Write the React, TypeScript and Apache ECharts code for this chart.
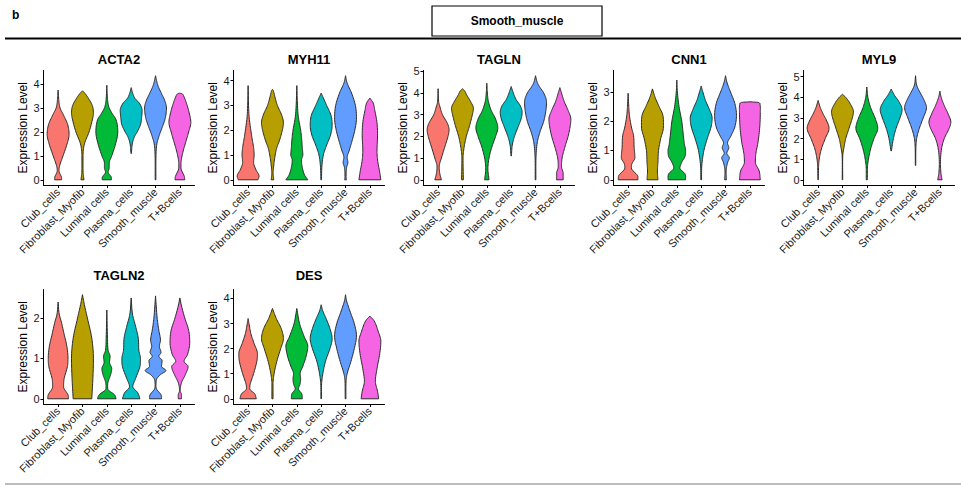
import React, { useEffect, useRef } from "react";
import * as echarts from "echarts";

// ---------- data ----------
const CELL_TYPES = ["Club_cells", "Fibroblast_Myofib", "Luminal cells", "Plasma_cells", "Smooth_muscle", "T+Bcells"];
const COLORS = ["#F8766D", "#B79F00", "#00BA38", "#00BFC4", "#619CFF", "#F564E3"];
const GENES = ["ACTA2", "MYH11", "TAGLN", "CNN1", "MYL9", "TAGLN2", "DES"];
const PANEL_TITLE = "Smooth_muscle";
const FIG_LABEL = "b";
const Y_NAME = "Expression Level";

// violin profiles: [expression level, relative half-width (1 = widest)]
const ACTA2 = [
  [[0, 0.32], [0.12, 0.3], [0.38, 0.08], [0.6, 0.15], [1.0, 0.45], [1.5, 0.82], [1.9, 1.0], [2.3, 0.88], [2.7, 0.5], [3.0, 0.18], [3.3, 0.07], [3.75, 0]],
  [[0, 0.14], [0.3, 0.06], [1.0, 0.05], [1.5, 0.18], [2.0, 0.6], [2.5, 0.9], [2.8, 1.0], [3.1, 0.9], [3.4, 0.55], [3.6, 0.25], [3.72, 0]],
  [[0, 0.42], [0.12, 0.4], [0.32, 0.12], [0.5, 0.22], [0.7, 0.22], [1.0, 0.45], [1.5, 0.8], [2.0, 1.0], [2.5, 0.85], [2.8, 0.45], [3.05, 0.18], [3.4, 0.06], [3.95, 0]],
  [[1.1, 0.02], [1.5, 0.1], [1.8, 0.3], [2.0, 0.55], [2.3, 0.85], [2.6, 0.95], [2.9, 1.0], [3.2, 0.75], [3.4, 0.35], [3.6, 0.15], [3.85, 0]],
  [[0, 0.03], [1.0, 0.04], [1.5, 0.12], [1.8, 0.3], [2.0, 0.45], [2.3, 0.7], [2.6, 0.9], [3.0, 1.0], [3.3, 0.85], [3.6, 0.55], [3.9, 0.25], [4.1, 0.12], [4.35, 0]],
  [[0, 0.45], [0.15, 0.4], [0.5, 0.1], [0.8, 0.12], [1.2, 0.3], [1.6, 0.55], [2.0, 0.8], [2.4, 1.0], [2.8, 0.85], [3.2, 0.6], [3.5, 0.35], [3.6, 0.2], [3.62, 0]],
];
const MYH11 = [
  [[0, 0.9], [0.15, 1.0], [0.4, 0.72], [0.7, 0.5], [1.0, 0.55], [1.3, 0.5], [1.7, 0.35], [2.0, 0.25], [2.5, 0.1], [3.0, 0.04], [3.8, 0]],
  [[0, 0.12], [0.25, 0.06], [0.6, 0.12], [1.0, 0.25], [1.3, 0.4], [1.6, 0.65], [2.0, 0.9], [2.3, 1.0], [2.6, 0.85], [3.0, 0.45], [3.3, 0.25], [3.6, 0.08], [3.65, 0]],
  [[0, 1.0], [0.2, 0.7], [0.5, 0.5], [0.8, 0.42], [1.0, 0.55], [1.3, 0.5], [1.6, 0.45], [2.0, 0.35], [2.5, 0.15], [3.0, 0.06], [3.8, 0]],
  [[0, 0.03], [0.5, 0.06], [1.0, 0.2], [1.4, 0.5], [1.8, 0.85], [2.2, 1.0], [2.6, 0.9], [3.0, 0.5], [3.3, 0.2], [3.5, 0]],
  [[0, 0.08], [0.15, 0.05], [0.5, 0.1], [0.7, 0.22], [0.9, 0.15], [1.2, 0.35], [1.5, 0.55], [2.0, 0.85], [2.5, 1.0], [3.0, 0.9], [3.5, 0.55], [3.9, 0.15], [4.2, 0]],
  [[0, 1.0], [0.3, 0.9], [0.8, 0.7], [1.2, 0.65], [1.8, 0.7], [2.3, 0.65], [2.8, 0.45], [3.1, 0.3], [3.3, 0]],
];
const TAGLN = [
  [[0, 0.3], [0.3, 0.15], [0.6, 0.1], [1.0, 0.3], [1.5, 0.6], [2.0, 0.9], [2.3, 1.0], [2.6, 0.85], [3.0, 0.4], [3.4, 0.15], [3.6, 0.05], [4.2, 0]],
  [[0, 0.08], [1.0, 0.05], [1.5, 0.15], [2.0, 0.35], [2.5, 0.65], [3.0, 0.9], [3.3, 1.0], [3.6, 0.75], [3.9, 0.4], [4.1, 0.2], [4.2, 0]],
  [[0, 0.2], [0.5, 0.1], [1.0, 0.2], [1.5, 0.45], [2.0, 0.8], [2.4, 1.0], [2.8, 0.8], [3.2, 0.4], [3.6, 0.15], [4.0, 0.05], [4.45, 0]],
  [[1.1, 0.02], [1.6, 0.1], [2.0, 0.3], [2.4, 0.6], [2.8, 0.9], [3.1, 1.0], [3.4, 0.85], [3.7, 0.45], [4.0, 0.2], [4.3, 0]],
  [[0, 0.03], [1.0, 0.04], [1.7, 0.15], [2.2, 0.4], [2.7, 0.75], [3.2, 0.95], [3.6, 1.0], [4.0, 0.75], [4.3, 0.35], [4.5, 0.15], [4.8, 0]],
  [[0, 0.3], [0.3, 0.3], [0.6, 0.15], [1.0, 0.2], [1.5, 0.45], [2.0, 0.75], [2.5, 0.95], [2.8, 1.0], [3.2, 0.75], [3.6, 0.4], [4.0, 0.15], [4.25, 0]],
];
const CNN1 = [
  [[0, 0.9], [0.15, 0.85], [0.4, 0.3], [0.55, 0.35], [0.75, 0.62], [0.9, 0.6], [1.1, 0.55], [1.5, 0.5], [1.8, 0.3], [2.2, 0.12], [2.5, 0.06], [2.95, 0]],
  [[0, 0.5], [0.3, 0.45], [0.6, 0.5], [1.0, 0.55], [1.4, 0.75], [1.8, 1.0], [2.2, 0.95], [2.5, 0.6], [2.8, 0.25], [3.1, 0]],
  [[0, 0.8], [0.2, 0.75], [0.4, 0.28], [0.6, 0.45], [0.8, 0.75], [1.0, 0.8], [1.2, 0.7], [1.5, 0.6], [2.0, 0.45], [2.5, 0.2], [3.0, 0.05], [3.4, 0]],
  [[0, 0.03], [0.5, 0.06], [1.0, 0.25], [1.4, 0.55], [1.8, 0.9], [2.1, 1.0], [2.4, 0.75], [2.7, 0.4], [3.0, 0.15], [3.2, 0]],
  [[0, 0.08], [0.3, 0.05], [0.6, 0.2], [0.75, 0.35], [0.9, 0.12], [1.1, 0.3], [1.25, 0.18], [1.5, 0.5], [1.8, 0.85], [2.2, 1.0], [2.6, 0.85], [3.0, 0.45], [3.3, 0.15], [3.55, 0]],
  [[0, 0.95], [0.3, 0.85], [0.6, 0.5], [0.9, 0.55], [1.3, 0.75], [1.8, 0.9], [2.3, 0.95], [2.55, 0.93], [2.64, 0.75], [2.66, 0]],
];
const MYL9 = [
  [[0, 0.02], [0.6, 0.04], [1.0, 0.1], [1.5, 0.3], [2.0, 0.65], [2.5, 1.0], [2.9, 0.75], [3.2, 0.45], [3.5, 0.2], [3.85, 0]],
  [[0, 0.02], [1.2, 0.03], [1.6, 0.15], [2.0, 0.3], [2.5, 0.6], [3.0, 0.9], [3.3, 1.0], [3.7, 0.7], [4.0, 0.3], [4.15, 0]],
  [[0, 0.05], [0.5, 0.05], [1.0, 0.15], [1.5, 0.35], [2.0, 0.65], [2.5, 1.0], [3.0, 0.75], [3.5, 0.35], [4.0, 0.1], [4.5, 0]],
  [[1.4, 0.02], [2.0, 0.2], [2.5, 0.45], [3.0, 0.8], [3.4, 1.0], [3.8, 0.7], [4.1, 0.3], [4.4, 0]],
  [[0.7, 0.02], [1.5, 0.03], [2.0, 0.1], [2.5, 0.35], [3.0, 0.7], [3.5, 1.0], [3.9, 0.75], [4.3, 0.35], [4.6, 0.1], [5.05, 0]],
  [[0, 0.2], [0.3, 0.1], [0.8, 0.05], [1.5, 0.15], [2.0, 0.4], [2.5, 0.85], [2.8, 1.0], [3.2, 0.75], [3.6, 0.4], [4.0, 0.12], [4.3, 0]],
];
const TAGLN2 = [
  [[0, 0.95], [0.1, 0.9], [0.3, 0.5], [0.5, 0.55], [0.8, 0.85], [1.0, 0.9], [1.3, 0.8], [1.6, 0.55], [1.9, 0.3], [2.1, 0.1], [2.4, 0]],
  [[0, 0.85], [0.5, 0.95], [1.0, 1.0], [1.5, 0.85], [2.0, 0.45], [2.3, 0.2], [2.58, 0]],
  [[0, 0.85], [0.1, 0.7], [0.25, 0.08], [0.4, 0.1], [0.6, 0.35], [0.75, 0.45], [0.9, 0.25], [1.05, 0.3], [1.2, 0.12], [1.5, 0.06], [2.2, 0]],
  [[0, 0.8], [0.15, 0.6], [0.3, 0.15], [0.5, 0.4], [0.8, 0.8], [1.0, 0.85], [1.2, 0.7], [1.5, 0.65], [1.8, 0.4], [2.1, 0.12], [2.5, 0]],
  [[0, 0.55], [0.1, 0.5], [0.25, 0.08], [0.45, 0.06], [0.6, 0.45], [0.7, 0.95], [0.8, 0.55], [0.95, 0.6], [1.05, 0.3], [1.15, 0.5], [1.3, 0.35], [1.45, 0.45], [1.7, 0.3], [2.0, 0.15], [2.55, 0]],
  [[0, 0.15], [0.1, 0.15], [0.2, 0.03], [0.4, 0.15], [0.6, 0.5], [0.8, 0.75], [0.93, 0.38], [1.1, 0.7], [1.4, 0.9], [1.7, 0.8], [2.0, 0.45], [2.3, 0.15], [2.5, 0]],
];
const DES = [
  [[0, 0.75], [0.2, 0.6], [0.4, 0.15], [0.6, 0.2], [1.0, 0.5], [1.5, 0.8], [1.8, 0.85], [2.2, 0.55], [2.6, 0.25], [3.0, 0.08], [3.2, 0]],
  [[0, 0.05], [0.6, 0.05], [1.0, 0.15], [1.5, 0.4], [2.0, 0.75], [2.4, 1.0], [2.8, 0.8], [3.2, 0.35], [3.6, 0]],
  [[0, 0.5], [0.2, 0.45], [0.4, 0.15], [0.6, 0.3], [0.8, 0.35], [1.0, 0.3], [1.3, 0.55], [1.7, 0.85], [2.1, 1.0], [2.5, 0.65], [3.0, 0.25], [3.6, 0]],
  [[0, 0.02], [0.6, 0.04], [1.0, 0.15], [1.5, 0.4], [2.0, 0.8], [2.4, 1.0], [2.8, 0.8], [3.2, 0.45], [3.5, 0.15], [3.75, 0]],
  [[0, 0.03], [0.7, 0.05], [1.0, 0.15], [1.5, 0.5], [2.0, 0.8], [2.5, 1.0], [3.0, 0.8], [3.5, 0.4], [3.9, 0.1], [4.15, 0]],
  [[0, 0.8], [0.3, 0.7], [0.7, 0.5], [1.2, 0.65], [1.8, 0.9], [2.3, 1.0], [2.7, 0.75], [3.1, 0.4], [3.3, 0]],
];
const PROFILES = [ACTA2, MYH11, TAGLN, CNN1, MYL9, TAGLN2, DES];

// ---------- helpers ----------
const FONT = "'Liberation Sans', Arial, Helvetica, sans-serif";

function smoothProfile(p: number[][]): number[][] {
  const n = p.length;
  if (n < 3) return p;
  const d: number[] = [];
  for (let i = 0; i < n - 1; i++) d.push((p[i + 1][1] - p[i][1]) / (p[i + 1][0] - p[i][0]));
  const m: number[] = [];
  for (let i = 0; i < n; i++) {
    if (i === 0) m.push(d[0]);
    else if (i === n - 1) m.push(d[n - 2]);
    else if (d[i - 1] * d[i] <= 0) m.push(0);
    else m.push((p[i + 1][1] - p[i - 1][1]) / (p[i + 1][0] - p[i - 1][0]));
  }
  const out: number[][] = [];
  const STEPS = 8;
  for (let i = 0; i < n - 1; i++) {
    const y0 = p[i][0], y1 = p[i + 1][0], w0 = p[i][1], w1 = p[i + 1][1];
    const h = y1 - y0;
    for (let s = 0; s < STEPS; s++) {
      const t = s / STEPS;
      const t2 = t * t, t3 = t2 * t;
      const w = (2 * t3 - 3 * t2 + 1) * w0 + (t3 - 2 * t2 + t) * h * m[i] + (-2 * t3 + 3 * t2) * w1 + (t3 - t2) * h * m[i + 1];
      out.push([y0 + t * h, Math.max(0, w)]);
    }
  }
  out.push(p[n - 1]);
  return out;
}

function geneMax(g: number[][][]): number {
  let mx = 0;
  g.forEach((v) => v.forEach((pt) => (mx = Math.max(mx, pt[0]))));
  return mx;
}

const CAT_POS = [1, 2, 3, 4, 5, 6];

function buildOption() {
  const grids: any[] = [];
  const xAxes: any[] = [];
  const yAxes: any[] = [];
  const series: any[] = [];
  const graphics: any[] = [];

  GENES.forEach((gene, gi) => {
    const row = gi < 5 ? 0 : 1;
    const col = gi < 5 ? gi : gi - 5;
    const left = 43.5 + 190 * col;
    const top = row === 0 ? 70.5 : 289.5;
    const height = 114.5;
    const width = 151;
    grids.push({ left, top, width, height, containLabel: false });

    const mx = geneMax(PROFILES[gi]);
    const yMin = -0.05 * mx;
    const yMax = 1.05 * mx;
    const ticks: number[] = [];
    for (let t = 0; t <= yMax; t++) ticks.push(t);

    xAxes.push({
      gridIndex: gi,
      type: "value",
      min: 0.4,
      max: 6.6,
      axisLine: { show: true, onZero: false, lineStyle: { color: "#000", width: 1 } },
      axisTick: { show: true, customValues: CAT_POS, length: 3, lineStyle: { color: "#000", width: 1 } },
      axisLabel: {
        show: true,
        customValues: CAT_POS,
        formatter: (v: number) => CELL_TYPES[Math.round(v) - 1] || "",
        rotate: 45,
        color: "#1a1a1a",
        fontSize: 11,
        fontFamily: FONT,
        margin: 5,
      },
      splitLine: { show: false },
    });
    yAxes.push({
      gridIndex: gi,
      type: "value",
      min: yMin,
      max: yMax,
      name: Y_NAME,
      nameLocation: "middle",
      nameGap: 15,
      nameTextStyle: { fontSize: 12, color: "#000", fontFamily: FONT },
      axisLine: { show: true, onZero: false, lineStyle: { color: "#000", width: 1 } },
      axisTick: { show: true, customValues: ticks, length: 3, lineStyle: { color: "#000", width: 1 } },
      axisLabel: { show: true, customValues: ticks, color: "#1a1a1a", fontSize: 11, fontFamily: FONT, margin: 4 },
      splitLine: { show: false },
    });

    const profs = PROFILES[gi].map(smoothProfile);
    series.push({
      type: "custom",
      xAxisIndex: gi,
      yAxisIndex: gi,
      clip: false,
      encode: { x: 0, y: 1 },
      data: CAT_POS.map((c, i) => [c, 0, i]),
      renderItem: (params: any, api: any) => {
        const cat = api.value(0);
        const vi = api.value(2);
        const pts = profs[vi];
        const base = api.coord([cat, 0]);
        const hw = api.coord([cat + 0.45, 0])[0] - base[0];
        const right = pts.map(([y, w]) => {
          const p = api.coord([cat, y]);
          return [p[0] + w * hw, p[1]];
        });
        const leftSide = pts
          .slice()
          .reverse()
          .map(([y, w]) => {
            const p = api.coord([cat, y]);
            return [p[0] - w * hw, p[1]];
          });
        return {
          type: "polygon",
          shape: { points: right.concat(leftSide) },
          style: { fill: COLORS[vi], stroke: "#2b2b2b", lineWidth: 1 },
        };
      },
    });

    graphics.push({
      type: "text",
      x: left + width / 2,
      y: row === 0 ? 59 : 275.5,
      style: { text: gene, textAlign: "center", textVerticalAlign: "middle", font: `bold 13px ${FONT}`, fill: "#000" },
    });
  });

  graphics.push(
    { type: "text", x: 12, y: 15, style: { text: FIG_LABEL, textAlign: "left", textVerticalAlign: "middle", font: `bold 12px ${FONT}`, fill: "#000" } },
    { type: "rect", shape: { x: 432, y: 6, width: 170, height: 30 }, style: { fill: "#fff", stroke: "#000", lineWidth: 1.2 } },
    { type: "text", x: 517, y: 21, style: { text: PANEL_TITLE, textAlign: "center", textVerticalAlign: "middle", font: `bold 12px ${FONT}`, fill: "#000" } },
    { type: "line", shape: { x1: 5, y1: 38.5, x2: 961, y2: 38.5 }, style: { stroke: "#000", lineWidth: 2 } },
    { type: "line", shape: { x1: 5, y1: 484, x2: 961, y2: 484 }, style: { stroke: "#bdbdbd", lineWidth: 2 } }
  );

  return {
    animation: false,
    backgroundColor: "#fff",
    grid: grids,
    xAxis: xAxes,
    yAxis: yAxes,
    series,
    graphic: graphics,
  };
}

export default function App() {
  const ref = useRef<HTMLDivElement>(null);
  useEffect(() => {
    if (!ref.current) return;
    const chart = echarts.init(ref.current, undefined, { renderer: "svg" });
    chart.setOption(buildOption() as any);
    return () => chart.dispose();
  }, []);
  return <div ref={ref} style={{ position: "fixed", left: 0, top: 0, width: 961, height: 487, background: "#fff" }} />;
}
